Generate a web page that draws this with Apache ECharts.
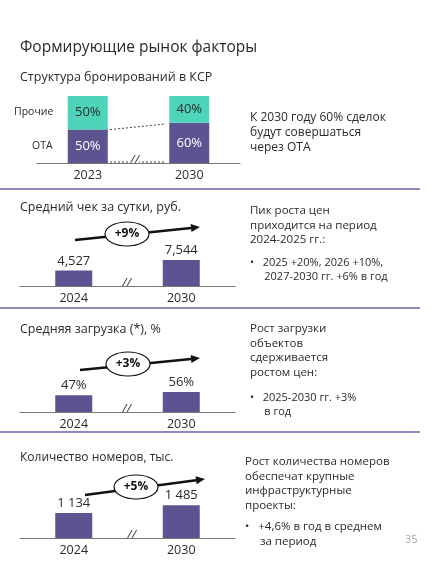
<!DOCTYPE html>
<html><head><meta charset="utf-8">
<script src="https://cdn.jsdelivr.net/npm/echarts@6/dist/echarts.min.js"></script>
<style>html,body{margin:0;padding:0;background:#fff}#c{width:440px;height:565px}</style>
</head><body><div id="c"></div>
<script>
const years1 = ["2023","2030"];
const otaShare = [50, 60];
const otherShare = [50, 40];
const years2 = ["2024","2030"];
const avgCheck = [4527, 7544];
const avgCheckLabels = ["4,527","7,544"];
const occupancy = [47, 56];
const rooms = [1134, 1485];
const roomsLabels = ["1 134","1 485"];

const PURPLE = '#5b5490', TEAL = '#4dd4b9', TXT = '#2b2b2b';
const F = 'Open Sans';
const chart = echarts.init(document.getElementById('c'));

function grid(left, right, baseline, h){ return {left:left, width:right-left, top:baseline-h, height:h}; }
const grids = [grid(37,240,163,67), grid(20,235,286,40), grid(20,235,412,40), grid(20,235,538,40)];
const xAxes = [years1, years2, years2, years2].map((d,i)=>({
  type:'category', gridIndex:i, data:d,
  axisLine:{lineStyle:{color:'#777', width:1.2}}, axisTick:{show:false},
  axisLabel:{color:TXT, fontFamily:F, fontSize:12.5, margin:6}
}));
const maxes = [100, 11600, 112, 1814];
const yAxes = maxes.map((m,i)=>({type:'value', gridIndex:i, min:0, max:m, show:false}));

const lbl = (fmt)=>({show:true, position:'top', color:TXT, fontFamily:F, fontSize:13, formatter:fmt, distance:3});
const series = [
  {type:'bar', xAxisIndex:0, yAxisIndex:0, stack:'s', data:otaShare, barWidth:40, itemStyle:{color:PURPLE},
   label:{show:true, position:'inside', color:'#fff', fontFamily:F, fontSize:13, formatter:'{c}%'}},
  {type:'bar', xAxisIndex:0, yAxisIndex:0, stack:'s', data:otherShare, barWidth:40, itemStyle:{color:TEAL},
   label:{show:true, position:'inside', color:TXT, fontFamily:F, fontSize:13, formatter:'{c}%'}},
  {type:'bar', xAxisIndex:1, yAxisIndex:1, data:avgCheck, barWidth:37, itemStyle:{color:PURPLE},
   label:lbl(p=>avgCheckLabels[p.dataIndex])},
  {type:'bar', xAxisIndex:2, yAxisIndex:2, data:occupancy, barWidth:37, itemStyle:{color:PURPLE},
   label:lbl('{c}%')},
  {type:'bar', xAxisIndex:3, yAxisIndex:3, data:rooms, barWidth:37, itemStyle:{color:PURPLE},
   label:lbl(p=>roomsLabels[p.dataIndex])}
];

function T(x,y,text,size,extra){ return Object.assign({type:'text', left:x, top:y, style:{text:text, fill:TXT, font:(size||12)+'px "'+F+'"', lineHeight:(size||12)*1.25}}, extra||{}); }
function sep(y){ return {type:'line', shape:{x1:0,y1:y,x2:420,y2:y}, style:{stroke:'#6a62a6', lineWidth:1.5}}; }
function brk(x,y){ return {type:'text', left:x-6, top:y-9, style:{text:'//', fill:'#444', font:'italic 13px "'+F+'"', backgroundColor:'#fff'}}; }
function arrowBadge(x1,y1,x2,y2,cx,cy,t){
  const ang=Math.atan2(y2-y1,x2-x1), L=9, W=4;
  const bx=x2-L*Math.cos(ang), by=y2-L*Math.sin(ang);
  return [
    {type:'line', shape:{x1:x1,y1:y1,x2:bx,y2:by}, style:{stroke:'#111', lineWidth:2.5}},
    {type:'polygon', shape:{points:[[x2,y2],[bx+W*Math.sin(ang),by-W*Math.cos(ang)],[bx-W*Math.sin(ang),by+W*Math.cos(ang)]]}, style:{fill:'#111'}},
    {type:'ellipse', shape:{cx:cx,cy:cy,rx:22,ry:12}, style:{fill:'#fff', stroke:'#111', lineWidth:1.2}},
    {type:'text', x:cx, y:cy, style:{text:t, fill:'#111', font:'bold 12px "'+F+'"', align:'center', verticalAlign:'middle'}}
  ];
}

const graphics = [
  T(20,38,'Формирующие рынок факторы',15.5),
  T(20,70,'Структура бронирований в КСР',12.5),
  T(14,105,'Прочие',10.5), T(32,139,'ОТА',10.5),
  {type:'line', shape:{x1:106,y1:130,x2:166,y2:124}, style:{stroke:'#444', lineWidth:1, lineDash:[2,2]}},
  {type:'line', shape:{x1:106,y1:162,x2:166,y2:162}, style:{stroke:'#444', lineWidth:1, lineDash:[2,2]}},
  brk(136,163),
  T(250,110,'К 2030 году 60% сделок\nбудут совершаться\nчерез ОТА',12),
  sep(189),
  T(20,200,'Средний чек за сутки, руб.',12.5),
  T(250,204,'Пик роста цен\nприходится на период\n2024-2025 гг.:',11.5),
  T(250,256,'•   2025 +20%, 2026 +10%,\n     2027-2030 гг. +6% в год',11),
  brk(128,286),
  ...arrowBadge(75,240,200,227,127,234,'+9%'),
  sep(308),
  T(20,322,'Средняя загрузка (*), %',12.5),
  T(250,322,'Рост загрузки\nобъектов\nсдерживается\nростом цен:',11.5),
  T(250,391,'•   2025-2030 гг. +3%\n     в год',11),
  brk(128,412),
  ...arrowBadge(80,370,200,358,128,364,'+3%'),
  sep(432),
  T(20,450,'Количество номеров, тыс.',12),
  T(245,455,'Рост количества номеров\nобеспечат крупные\nинфраструктурные\nпроекты:',11.5),
  T(245,520,'•   +4,6% в год в среднем\n     за период',11.5),
  brk(133,538),
  ...arrowBadge(85,495,205,479,136,487,'+5%'),
  {type:'text', left:405, top:534, style:{text:'35', fill:'#aaa', font:'11px "'+F+'"'}}
];

chart.setOption({animation:false, grid:grids, xAxis:xAxes, yAxis:yAxes, series:series, graphic:graphics});
</script></body></html>
